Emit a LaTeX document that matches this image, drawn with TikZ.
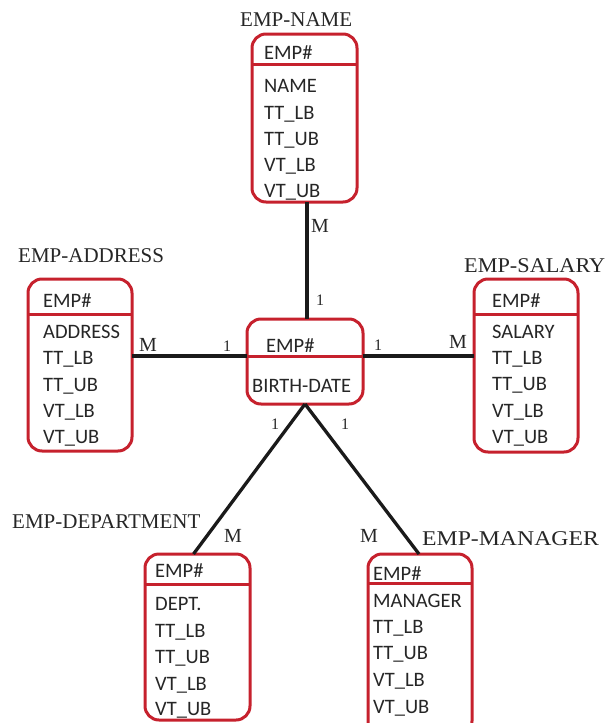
\documentclass[tikz,border=0pt]{standalone}
\usepackage{fontspec}
\usetikzlibrary{calc}
\setmainfont{Liberation Serif}
\newfontfamily\boxfont{Carlito}
\definecolor{boxred}{RGB}{198,33,45}
\definecolor{linkblack}{RGB}{26,26,26}
\tikzset{
  entbox/.style={draw=boxred, line width=3pt, rounded corners=14pt, outer sep=0pt, inner sep=0pt},
  divider/.style={draw=boxred, line width=3pt},
  attr/.style={anchor=base west, inner sep=0pt, font=\boxfont\fontsize{20.5}{24}\selectfont, text=black!85},
  title/.style={anchor=base west, inner sep=0pt, font=\fontsize{21}{24}\selectfont, text=black!85},
  card/.style={anchor=base, inner sep=0pt, font=\fontsize{20}{24}\selectfont, text=black!85},
  one/.style={anchor=base, inner sep=0pt, font=\fontsize{16}{18}\selectfont, text=black!85},
  link/.style={draw=linkblack, line width=3.3pt}
}
% \ebox{name}{left}{top}{right}{bottom}{divider y}
\newcommand{\ebox}[6]{%
  \node[entbox, minimum width={(#4-#2)*1pt}, minimum height={(#5-#3)*1pt}] (#1) at ({(#2+#4)/2},{(#3+#5)/2}) {};
  \draw[divider] (#1.west |- 0,#6) -- (#1.east |- 0,#6);
}
\begin{document}
\begin{tikzpicture}[x=1pt,y=-1pt]
\useasboundingbox (0,0) rectangle (605,723);
\clip (0,0) rectangle (605,723);

% boxes
\ebox{name}{252}{34}{357}{202}{64.5}
\ebox{addr}{28}{279}{132}{451}{314}
\ebox{sal}{474}{279}{578}{452}{314}
\ebox{center}{247}{319}{363}{404}{356}
\ebox{dept}{145}{554}{250}{720}{584}
\ebox{mgr}{368}{554}{472}{735}{583}

% connectors
\coordinate (cdiv) at (0,356);
\draw[link] ($(name.south)+(2.5,0)$) -- ($(center.north)+(2,0)$);
\draw[link] (addr.east |- cdiv) -- (center.west |- cdiv);
\draw[link] (center.east |- cdiv) -- (sal.west |- cdiv);
\draw[link] (center.south) -- ($(dept.north)+(-4,0)$);
\draw[link] (center.south) -- ($(mgr.north)+(-1,0)$);

% titles
\node[title] (tname) at (240,26) {EMP-NAME};
\node[title] (taddr) at (18,262) {EMP-ADDRESS};
\node[title] (tsal) at (464,272) {\scalebox{1.06}[1]{EMP-SALARY}};
\node[title] (tdept) at (12,528) {EMP-DEPARTMENT};
\node[title] (tmgr) at (422,545) {\scalebox{1.13}[1]{EMP-MANAGER}};

% cardinalities
\node[card] (m1) at (320,232) {M};
\node[one] (o1) at (320,305) {1};
\node[card] (m2) at (148,351) {M};
\node[one] (o2) at (227,351) {1};
\node[one] (o3) at (378,350) {1};
\node[card] (m3) at (458,348) {M};
\node[one] (o4) at (275,429) {1};
\node[one] (o5) at (345,429) {1};
\node[card] (m4) at (233,542) {M};
\node[card] (m5) at (369,542) {M};

% box contents: EMP-NAME
\node[attr] (n0) at (264,59) {EMP\#};
\node[attr] (n1) at (264,92) {NAME};
\node[attr] (n2) at (264,119) {TT\_LB};
\node[attr] (n3) at (264,145) {TT\_UB};
\node[attr] (n4) at (264,171) {VT\_LB};
\node[attr] (n5) at (264,197) {VT\_UB};

% EMP-ADDRESS
\node[attr] (a0) at (43,307) {EMP\#};
\node[attr] (a1) at (43,338) {ADDRESS};
\node[attr] (a2) at (43,364) {TT\_LB};
\node[attr] (a3) at (43,391) {TT\_UB};
\node[attr] (a4) at (43,417) {VT\_LB};
\node[attr] (a5) at (43,443) {VT\_UB};

% EMP-SALARY
\node[attr] (s0) at (492,307) {EMP\#};
\node[attr] (s1) at (492,338) {SALARY};
\node[attr] (s2) at (492,364) {TT\_LB};
\node[attr] (s3) at (492,390) {TT\_UB};
\node[attr] (s4) at (492,417) {VT\_LB};
\node[attr] (s5) at (492,443) {VT\_UB};

% center
\node[attr] (c0) at (266,352) {EMP\#};
\node[attr] (c1) at (252,392) {BIRTH-DATE};

% EMP-DEPARTMENT
\node[attr] (d0) at (155,577) {EMP\#};
\node[attr] (d1) at (155,610) {DEPT.};
\node[attr] (d2) at (155,637) {TT\_LB};
\node[attr] (d3) at (155,663) {TT\_UB};
\node[attr] (d4) at (155,690) {VT\_LB};
\node[attr] (d5) at (155,715) {VT\_UB};

% EMP-MANAGER
\node[attr] (g0) at (373,580) {EMP\#};
\node[attr] (g1) at (373,607) {MANAGER};
\node[attr] (g2) at (373,633) {TT\_LB};
\node[attr] (g3) at (373,659) {TT\_UB};
\node[attr] (g4) at (373,686) {VT\_LB};
\node[attr] (g5) at (373,713) {VT\_UB};
\end{tikzpicture}
\end{document}
